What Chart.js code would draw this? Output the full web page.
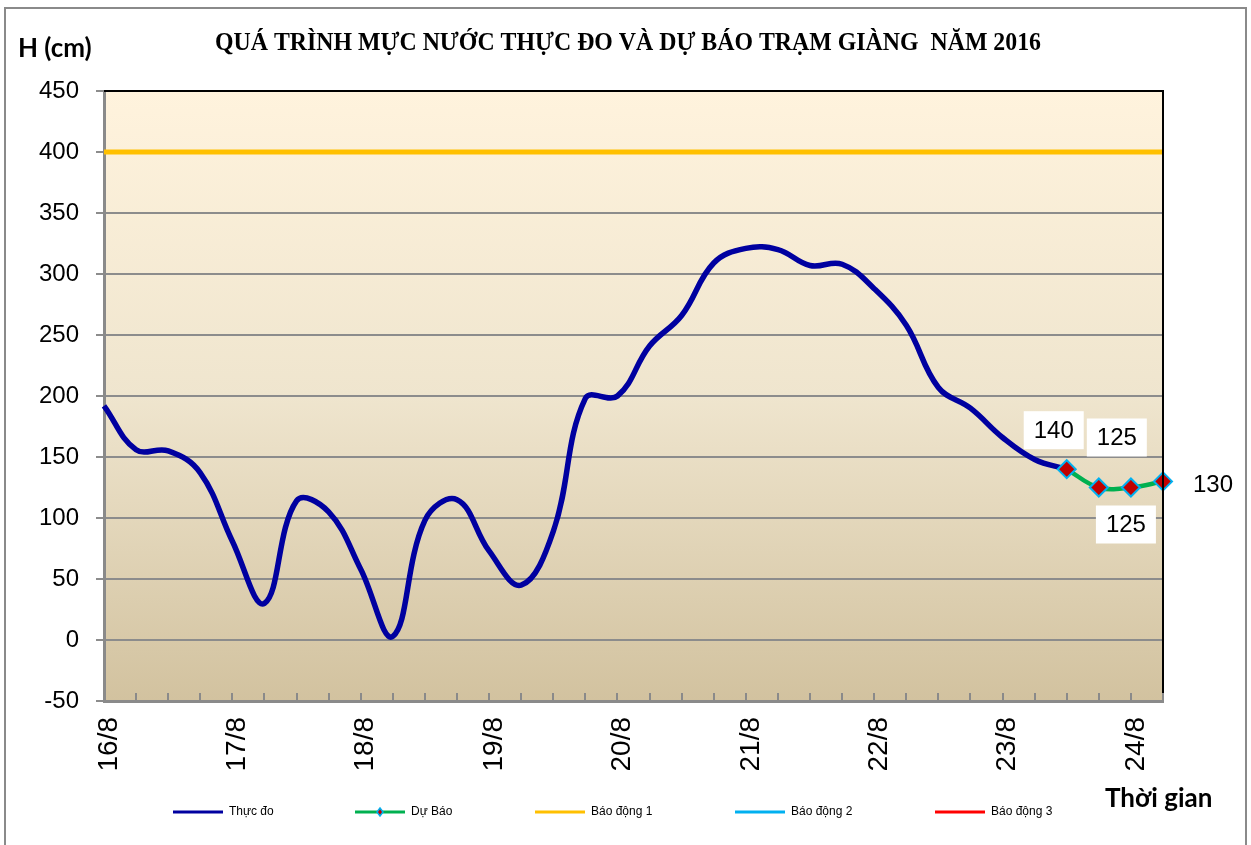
<!DOCTYPE html>
<html><head><meta charset="utf-8">
<script src="https://cdn.jsdelivr.net/npm/chart.js@4.4.1/dist/chart.umd.min.js"></script>
<style>html,body{margin:0;padding:0;background:#fff;}canvas{display:block;}</style>
</head><body>
<canvas id="c" width="1251" height="845"></canvas>
<script>
// ---- data ----
const tickLabels = ['16/8','','','','17/8','','','','18/8','','','','19/8','','','','20/8','','','','21/8','','','','22/8','','','','23/8','','','','24/8',''];
const observed = [192,156,155,137,81,30,114,105,58,3,98,115,73,45,89,198,200,241,266,309,321,320,307,308,288,258,207,190,166,148,140,null,null,null];
const forecast = [null,null,null,null,null,null,null,null,null,null,null,null,null,null,null,null,null,null,null,null,null,null,null,null,null,null,null,null,null,null,140,125,125,130];
const alarm1Level = 400;
const seriesNames = ['Thực đo','Dự Báo','Báo động 1','Báo động 2','Báo động 3'];
const yTicks = [-50,0,50,100,150,200,250,300,350,400,450];
const titleText = 'QUÁ TRÌNH MỰC NƯỚC THỰC ĐO VÀ DỰ BÁO TRẠM GIÀNG  NĂM 2016';
const yTitle = 'H (cm)';
const xTitle = 'Thời gian';

// ---- styles ----
const colors = ['#0000A0','#00B050','#FFC000','#00B0F0','#FF0000'];
const alarm1 = tickLabels.map(() => alarm1Level);
const emptySeries = tickLabels.map(() => null);
// label placement offsets relative to forecast points (px)
const labelOffsets = {30:[-13,-39],31:[18,-50],32:[-5,37],33:[50,3]};

const bgPlugin = {
  id:'bg',
  beforeDraw(chart){
    const ctx = chart.ctx, a = chart.chartArea;
    ctx.save();
    ctx.fillStyle='#fff'; ctx.fillRect(0,0,chart.width,chart.height);
    ctx.strokeStyle='#8a8a8a'; ctx.lineWidth=2;
    ctx.strokeRect(5,8,1241,850);
    const g = ctx.createLinearGradient(0,a.top,0,a.bottom);
    g.addColorStop(0,'#FFF3DD');
    g.addColorStop(0.5,'#EFE5CE');
    g.addColorStop(1,'#D2C29F');
    ctx.fillStyle=g; ctx.fillRect(a.left,a.top,a.right-a.left,a.bottom-a.top);
    ctx.restore();
  },
  afterDatasetsDraw(chart){
    const ctx = chart.ctx, a = chart.chartArea;
    ctx.save();
    ctx.strokeStyle='#000'; ctx.lineWidth=2;
    ctx.beginPath(); ctx.moveTo(a.left,a.top); ctx.lineTo(a.right,a.top); ctx.lineTo(a.right,a.bottom); ctx.stroke();
    const xs = chart.scales.x;
    ctx.strokeStyle='#8a8a8a'; ctx.lineWidth=2;
    for(let i=1;i<tickLabels.length;i++){
      const px = Math.round(xs.getPixelForValue(i));
      ctx.beginPath(); ctx.moveTo(px,a.bottom); ctx.lineTo(px,a.bottom-8); ctx.stroke();
    }
    ctx.restore();
  },
  afterDraw(chart){
    const ctx = chart.ctx;
    ctx.save();
    const meta = chart.getDatasetMeta(1);
    ctx.font='24px "Liberation Sans", Arial, sans-serif';
    ctx.textAlign='center'; ctx.textBaseline='middle';
    forecast.forEach((v,i)=>{
      if(v===null) return;
      const el = meta.data[i];
      const off = labelOffsets[i] || [0,-30];
      const cx = el.x+off[0], cy = el.y+off[1];
      ctx.fillStyle='#fff'; ctx.fillRect(cx-30,cy-19,60,38);
      ctx.fillStyle='#000'; ctx.fillText(String(v),cx,cy+1);
    });
    ctx.font='bold 25px "Liberation Serif", "Times New Roman", serif';
    ctx.textAlign='center'; ctx.textBaseline='middle';
    ctx.fillText(titleText,628,44,826);
    ctx.font='bold 26px Lato, "Open Sans", sans-serif';
    ctx.textAlign='left';
    ctx.fillText(yTitle,18,49);
    ctx.fillText(xTitle,1105,799);
    const lx=[173,355,535,735,935];
    ctx.font='12px "Liberation Sans", Arial, sans-serif';
    ctx.textBaseline='middle';
    seriesNames.forEach((n,k)=>{
      const x=lx[k], y=812;
      ctx.strokeStyle=colors[k]; ctx.lineWidth=3;
      ctx.beginPath(); ctx.moveTo(x,y); ctx.lineTo(x+50,y); ctx.stroke();
      if(k===1){
        ctx.fillStyle='#C00000'; ctx.strokeStyle='#00B0F0'; ctx.lineWidth=1.5;
        ctx.beginPath(); ctx.moveTo(x+25,y-4); ctx.lineTo(x+28,y); ctx.lineTo(x+25,y+4); ctx.lineTo(x+22,y); ctx.closePath(); ctx.fill(); ctx.stroke();
      }
      ctx.fillStyle='#000'; ctx.fillText(n,x+56,y);
    });
    ctx.restore();
  }
};

new Chart(document.getElementById('c'),{
  type:'line',
  data:{
    labels:tickLabels,
    datasets:[
      {label:seriesNames[0],data:observed,borderColor:colors[0],borderWidth:5.5,pointRadius:0,tension:0.4,order:1,spanGaps:false},
      {label:seriesNames[1],data:forecast,borderColor:colors[1],borderWidth:4.5,tension:0.4,order:0,clip:false,
        pointStyle:'rectRot',pointRadius:9,pointBackgroundColor:'#C00000',pointBorderColor:'#00B0F0',pointBorderWidth:2},
      {label:seriesNames[2],data:alarm1,borderColor:colors[2],borderWidth:5,pointRadius:0,tension:0,order:2},
      {label:seriesNames[3],data:emptySeries,borderColor:colors[3],borderWidth:3,pointRadius:0,order:3},
      {label:seriesNames[4],data:emptySeries,borderColor:colors[4],borderWidth:3,pointRadius:0,order:4}
    ]
  },
  options:{
    responsive:false,animation:false,
    layout:{padding:{top:91,right:88,left:0,bottom:0}},
    plugins:{legend:{display:false},tooltip:{enabled:false},title:{display:false}},
    scales:{
      x:{type:'category',offset:false,
        grid:{display:false,drawTicks:false},
        border:{color:'#8a8a8a',width:3},
        ticks:{autoSkip:false,minRotation:90,maxRotation:90,padding:16,labelOffset:5,color:'#000',
          font:{family:'"Liberation Sans", Arial, sans-serif',size:28}},
        afterFit(s){s.height=144;}
      },
      y:{min:-50,max:450,
        afterBuildTicks(s){s.ticks=yTicks.map(v=>({value:v}));},
        grid:{color:'#8c8c8c',lineWidth:2,tickLength:8,drawTicks:true},
        border:{color:'#8a8a8a',width:3},
        ticks:{padding:17,color:'#000',font:{family:'"Liberation Sans", Arial, sans-serif',size:24}},
        afterFit(s){s.width=104;}
      }
    }
  },
  plugins:[bgPlugin]
});
</script>
</body></html>
